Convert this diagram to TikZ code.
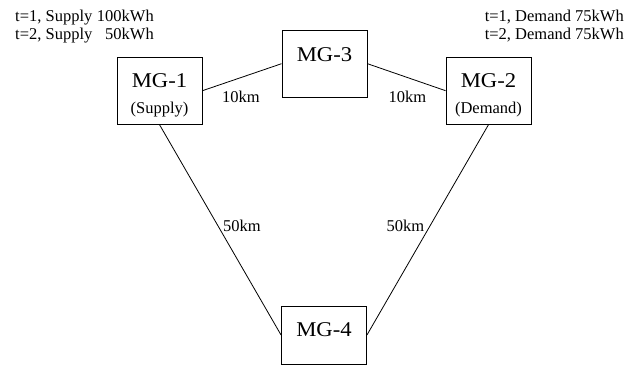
\documentclass[tikz,border=0pt]{standalone}
\usepackage{fontspec}
\setmainfont{Liberation Serif}
\newfontfamily\mgfont{Liberation Serif}[FakeStretch=1.08]
\usetikzlibrary{calc}

\tikzset{
  mgbox/.style={draw, line width=0.9pt, minimum width=85pt, minimum height=67pt, inner sep=0pt},
  mgname/.style={anchor=base, inner sep=0pt, font=\mgfont\fontsize{21}{21}\selectfont},
  small/.style={inner sep=0pt, font=\fontsize{16.5}{16.5}\selectfont},
  link/.style={line width=0.8pt},
}

\begin{document}
\begin{tikzpicture}[x=1pt,y=-1pt]
  \useasboundingbox (0,0) rectangle (637,374);

  % microgrid boxes
  \node[mgbox] (mg1) at (159.5,90.7) {};
  \node[mgbox] (mg3) at (324.5,63.7) {};
  \node[mgbox] (mg2) at (488.5,90.7) {};
  \node[mgbox, minimum height=58pt] (mg4) at (324,335) {};

  % box captions
  \node[mgname] (mg1t) at ($(mg1.north)+(0,31)$) {MG-1};
  \node[small, anchor=base] (mg1s) at ($(mg1.north)+(0,57)$) {(Supply)};
  \node[mgname] (mg3t) at ($(mg3.north)+(0,31.5)$) {MG-3};
  \node[mgname] (mg2t) at ($(mg2.north)+(0,31)$) {MG-2};
  \node[small, anchor=base] (mg2s) at ($(mg2.north)+(0,57)$) {(Demand)};
  \node[mgname] (mg4t) at ($(mg4.north)+(0,31)$) {MG-4};

  % links between microgrids
  \draw[link] (mg1.east) -- (mg3.west);
  \draw[link] (mg3.east) -- (mg2.west);
  \draw[link] (mg1.south) -- (mg4.west);
  \draw[link] (mg2.south) -- (mg4.east);

  % distances
  \node[small, anchor=base west] (d13) at (222,103) {10km};
  \node[small, anchor=base west] (d32) at (388.5,103) {10km};
  \node[small, anchor=base west] (d14) at (223,231) {50km};
  \node[small, anchor=base west] (d24) at (386.5,231) {50km};

  % supply schedule
  \node[small, anchor=base west] (s1a) at (15,22) {t=1, Supply};
  \node[small, anchor=base east] (s1b) at (154,22) {100kWh};
  \node[small, anchor=base west] (s2a) at (15,40) {t=2, Supply};
  \node[small, anchor=base east] (s2b) at (154,40) {50kWh};

  % demand schedule
  \node[small, anchor=base east] (r1) at (624,22) {t=1, Demand 75kWh};
  \node[small, anchor=base east] (r2) at (624,40) {t=2, Demand 75kWh};
\end{tikzpicture}
\end{document}
